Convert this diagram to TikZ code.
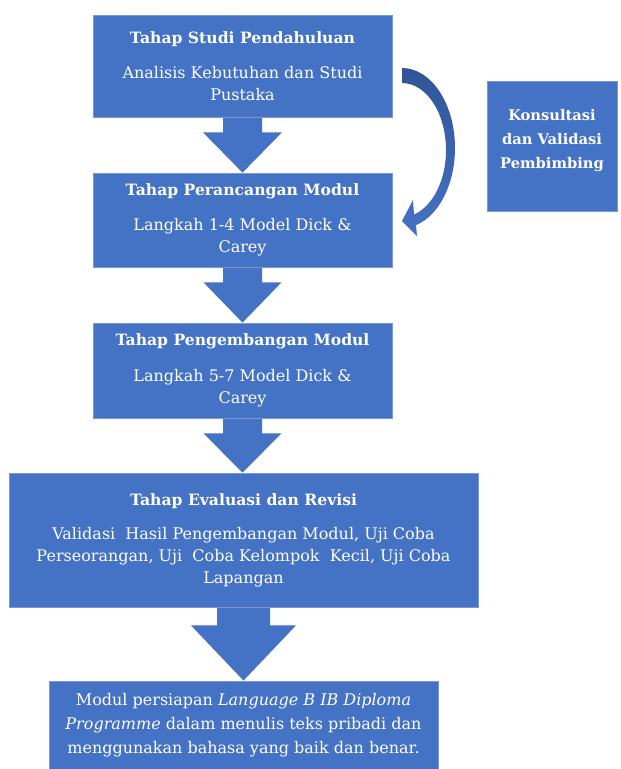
\documentclass[tikz,border=0pt]{standalone}
\usepackage{fontspec}
\setmainfont{DejaVu Serif}
\usepackage{tikz}
\usetikzlibrary{calc, backgrounds}
\definecolor{FlowBlue}{RGB}{68, 114, 196}
\definecolor{FlowEdge}{RGB}{125, 152, 206}
\definecolor{FlowDark}{RGB}{47, 85, 151}

\tikzset{
  stage/.style={draw=FlowEdge, line width=0.6pt, fill=FlowBlue, text=white, align=center,
    inner sep=0pt, font=\fontsize{12}{16.5}\selectfont},
}
\newcommand{\stagetitle}[1]{{\fontsize{11.7}{13}\selectfont\bfseries #1}}

\begin{document}
\begin{tikzpicture}[x=0.75pt,y=-0.75pt]
  \path[use as bounding box] (0,0) rectangle (621,769);

  % Stage boxes
  \node[stage, minimum width=224.25pt, minimum height=76.5pt] (studi) at (242.5,66)
    {\stagetitle{Tahap Studi Pendahuluan}\\[10pt] Analisis Kebutuhan dan Studi\\ Pustaka};
  \node[stage, minimum width=224.25pt, minimum height=70.5pt] (rancang) at (242.5,220)
    {\stagetitle{Tahap Perancangan Modul}\\[10pt] Langkah 1-4 Model Dick \&\\ Carey};
  \node[stage, minimum width=224.25pt, minimum height=71.25pt] (kembang) at (242.5,370.5)
    {\stagetitle{Tahap Pengembangan Modul}\\[10pt] Langkah 5-7 Model Dick \&\\ Carey};
  \node[stage, minimum width=351.75pt, minimum height=100.5pt] (evaluasi) at (243.5,540)
    {\stagetitle{Tahap Evaluasi dan Revisi}\\[9pt] Validasi\ \ Hasil Pengembangan Modul, Uji Coba\\
     Perseorangan, Uji\ \ Coba Kelompok\ \ Kecil, Uji Coba\\ Lapangan};
  \node[stage, minimum width=291.75pt, minimum height=66pt, font=\fontsize{12}{18}\selectfont] (modul) at (243.5,725)
    {Modul persiapan \textit{Language B IB Diploma}\\ \textit{Programme} dalam menulis teks pribadi dan\\
     menggunakan bahasa yang baik dan benar.};

  % Side box
  \node[stage, minimum width=97.5pt, minimum height=97.5pt, text depth=10.5pt,
    font=\fontsize{11}{18}\selectfont\bfseries] (konsul) at (552,146)
    {Konsultasi\\ dan Validasi\\ Pembimbing};

  % Block arrows between stages
  \begin{scope}[on background layer]
    \foreach \a/\b/\sw/\hw/\sl in {studi/rancang/19.5/39.5/15, rancang/kembang/19.5/39/15,
      kembang/evaluasi/19.5/39/15, evaluasi/modul/26.5/52.5/18}{
      \fill[FlowBlue] ($(\a.south)+(-\sw,0)$) -- ++(0,\sl) -- ++(\sw-\hw,0) -- (\a.south |- \b.north)
        -- ($(\a.south)+(\hw,\sl)$) -- ++(\sw-\hw,0) -- ($(\a.south)+(\sw,0)$) -- cycle;
    }
  \end{scope}

  % Curved arrow
  \shade[top color=FlowDark, bottom color=FlowBlue]
    (402,68) arc[start angle=-90, end angle=74.7, x radius=53, y radius=80]
    -- (417,236) -- (402,221) -- (413,200) -- (414,214.5)
    arc[start angle=74.2, end angle=-90, x radius=44, y radius=67] -- cycle;
\end{tikzpicture}
\end{document}
